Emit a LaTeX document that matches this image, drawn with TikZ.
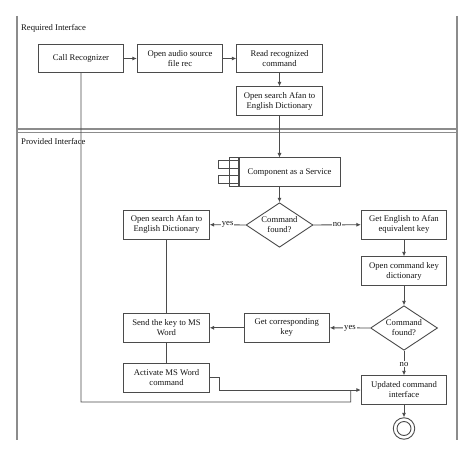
\documentclass[tikz,border=0pt]{standalone}
\usepackage{fontspec}
\setmainfont{Liberation Serif}
\usetikzlibrary{shapes.geometric,arrows.meta}
\definecolor{framegray}{RGB}{140,140,140}
\definecolor{boxgray}{RGB}{75,75,75}
\definecolor{inkgray}{RGB}{20,20,20}
\begin{document}
\begin{tikzpicture}[
			x=1bp, y=-1bp,
			font=\fontsize{8.7}{10}\selectfont, text=inkgray,
			act/.style={draw=boxgray, line width=0.9bp, minimum width=85.5bp, minimum height=28.5bp, align=center, inner sep=1bp},
			choice/.style={diamond, draw=boxgray, line width=0.9bp, minimum width=67bp, minimum height=44.5bp, aspect=1.5, inner sep=0pt, align=center},
			flow/.style={draw=boxgray, line width=0.9bp, -{Latex[length=4.5bp,width=4.2bp]}},
			wire/.style={draw=boxgray, line width=0.9bp},
			tag/.style={fill=white, inner sep=1bp}
		]
		\useasboundingbox (0,0) rectangle (474,458);

		% partitions
		\draw[framegray, line width=1.5bp] (17,16) -- (17,440) (457,16) -- (457,440)
			(17,129) -- (457,129) (17,132.5) -- (457,132.5);
		\node[anchor=west, inner sep=0pt] (reqlbl) at (21,28) {Required Interface};
		\node[anchor=west, inner sep=0pt] (provlbl) at (21,141) {Provided Interface};

		% required interface
		\node[act] (rec) at (81,58.5) {Call Recognizer};
		\node[act] (audio) at (180,58.5) {Open audio source\\file rec};
		\node[act] (read) at (279.5,58.5) {Read recognized\\command};
		\node[act] (searchA) at (279.5,101) {Open search Afan to\\English Dictionary};

		% provided interface
		\node[act, minimum width=101bp] (comp) at (289.5,172.2) {Component as a Service};
		\draw[wire] (229,157.7) rectangle (comp.south west);
		\draw[wire] (218,160.5) rectangle (239,168);
		\draw[wire] (218,175.5) rectangle (239,183);

		\node[choice] (dec1) at (279.5,225) {Command\\found?};
		\node[act] (searchB) at (166.5,224.7) {Open search Afan to\\English Dictionary};
		\node[act] (getEng) at (404,224.7) {Get English to Afan\\equivalent key};
		\node[act] (openKey) at (404,271) {Open command key\\dictionary};
		\node[choice] (dec2) at (404,328) {Command\\found?};
		\node[act] (getCor) at (286.7,327.8) {Get corresponding\\key};
		\node[act] (send) at (166.5,327.8) {Send the key to MS\\Word};
		\node[act] (activate) at (166.5,377.7) {Activate MS Word\\command};
		\node[act] (upd) at (404,390) {Updated command\\interface};
		\node[circle, draw=boxgray, line width=0.9bp, minimum size=21.5bp, inner sep=0pt] (final) at (404,428.5) {};
		\draw[wire] (final.center) circle (7bp);

		\coordinate (merge) at ([xshift=-10bp]upd.west);
		\coordinate (loopc) at (350.7,402);

		% connectors
		\draw[flow] (rec) -- (audio);
		\draw[flow] (audio) -- (read);
		\draw[flow] (read) -- (searchA);
		\draw[flow] (searchA.south) -- (searchA.south |- comp.north);
		\draw[flow] (dec1.north |- comp.south) -- (dec1.north);
		\draw[flow] (dec1.west) -- node[tag] {yes} (searchB.east);
		\draw[flow] (dec1.east) -- node[tag] {no} (getEng.west);
		\draw[flow] (getEng) -- (openKey);
		\draw[flow] (openKey) -- (dec2.north);
		\draw[flow] (dec2.west) -- node[tag] {yes} (getCor.east);
		\draw[flow] (getCor) -- (send);
		\draw[wire] (searchB) -- (send);
		\draw[wire] (send) -- (activate);
		\draw[flow] (dec2.south) -- node[tag, pos=0.55] {no} (upd.north);
		\draw[flow] (activate.east) -- ++(10,0) |- (upd.west);
		\draw[wire] (rec.south) |- (loopc) -- (merge);
		\draw[flow] (upd) -- (final);
	\end{tikzpicture}
\end{document}
